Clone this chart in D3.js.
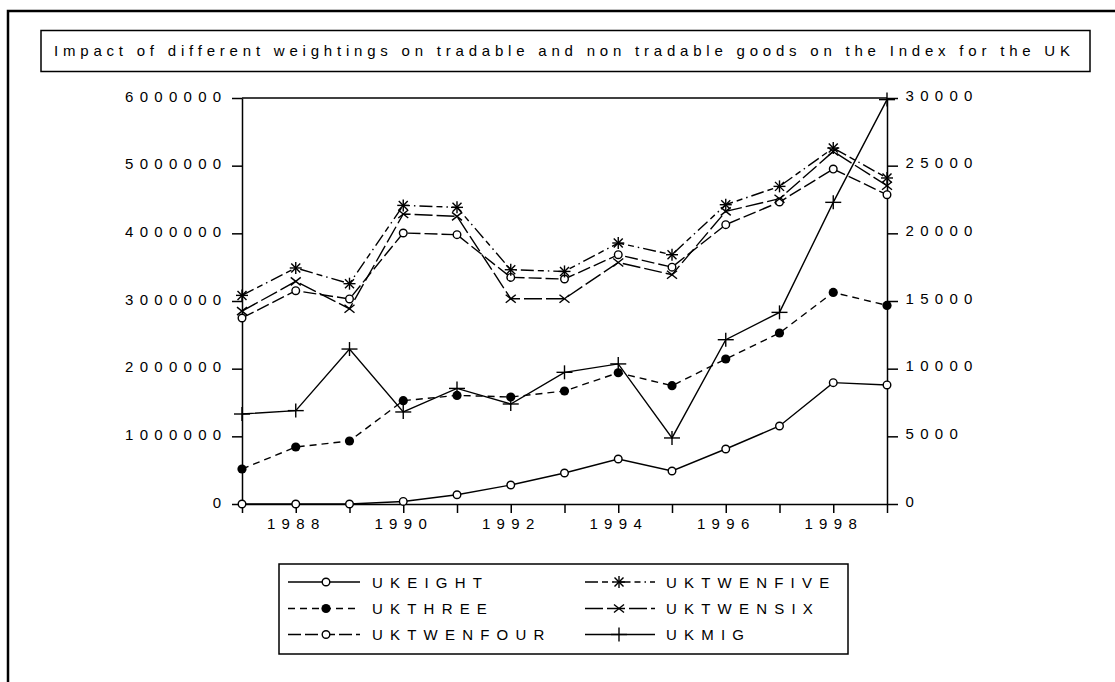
<!DOCTYPE html>
<html><head><meta charset="utf-8">
<script src="https://cdn.jsdelivr.net/npm/d3@7"></script>
<style>
html,body{margin:0;padding:0;background:#fff;}
svg text{font-family:"Liberation Sans",Arial,sans-serif;fill:#000;}
</style></head>
<body>
<svg id="chart" width="1115" height="682"></svg>
<script>
const years = [1987,1988,1989,1990,1991,1992,1993,1994,1995,1996,1997,1998,1999];
const yearLabels = [1988,1990,1992,1994,1996,1998];
const leftTicks = [0,1000000,2000000,3000000,4000000,5000000,6000000];
const rightTicks = [0,5000,10000,15000,20000,25000,30000];
const title = "Impact of different weightings on tradable and non tradable goods on the Index for the UK";

const ukeight     = [0,0,0,38000,137000,281000,458000,665000,488000,813000,1153000,1793000,1759000];
const ukthree     = [517000,842000,931000,1527000,1605000,1581000,1670000,1940000,1748000,2143000,2527000,3127000,2935000];
const uktwenfour  = [2749000,3152000,3030000,4005000,3980000,3349000,3325000,3684000,3500000,4128000,4463000,4950000,4571000];
const uktwenfive  = [3083000,3488000,3256000,4413000,4384000,3462000,3437000,3857000,3684000,4423000,4694000,5261000,4818000];
const uktwensix   = [2850000,3290000,2886000,4286000,4250000,3034000,3034000,3570000,3389000,4324000,4512000,5210000,4704000];
const ukmig       = [6650,6900,11450,6800,8540,7390,9730,10350,4880,12140,14160,22290,29880];

const seriesNames = ["UKEIGHT","UKTHREE","UKTWENFOUR","UKTWENFIVE","UKTWENSIX","UKMIG"];

const svg = d3.select("#chart");
const L = 242, R = 887, T = 98, B = 504;
const x = d3.scaleLinear().domain([1987,1999]).range([L,R]);
const yL = d3.scaleLinear().domain([0,6000000]).range([B,T]);
const yR = d3.scaleLinear().domain([0,30000]).range([B,T]);

// outer frame
svg.append("rect").attr("x",8).attr("y",11).attr("width",1125).attr("height",700)
  .attr("fill","none").attr("stroke","#000").attr("stroke-width",2.5);

// title box
svg.append("rect").attr("x",41).attr("y",30.5).attr("width",1049).attr("height",41)
  .attr("fill","none").attr("stroke","#000").attr("stroke-width",1.5);
svg.append("text").attr("x",54).attr("y",56).attr("font-size",15)
  .attr("textLength",1016).attr("lengthAdjust","spacing").text(title);

// plot top border
svg.append("line").attr("x1",L).attr("x2",R).attr("y1",T).attr("y2",T)
  .attr("stroke","#000").attr("stroke-width",1.5);

function styleAxis(g){
  g.selectAll("path.domain").attr("stroke","#000").attr("stroke-width",1.5);
  g.selectAll(".tick line").attr("stroke","#000").attr("stroke-width",1.5);
  g.selectAll(".tick text").attr("font-size",15).attr("letter-spacing","6.3px")
    .attr("font-family","Liberation Sans, Arial, sans-serif").attr("fill","#000");
}

const gl = svg.append("g").attr("transform",`translate(${L},0)`)
  .call(d3.axisLeft(yL).tickValues(leftTicks).tickSize(10).tickSizeOuter(0).tickPadding(8).tickFormat(d3.format("d")));
styleAxis(gl);
gl.selectAll(".tick text").attr("dy","0.2em").attr("x",-14.5);

const gr = svg.append("g").attr("transform",`translate(${R},0)`)
  .call(d3.axisRight(yR).tickValues(rightTicks).tickSize(11).tickSizeOuter(0).tickPadding(8).tickFormat(d3.format("d")));
styleAxis(gr);
gr.selectAll(".tick text").attr("dy","0.15em").attr("x",18.5);

const gx = svg.append("g").attr("transform",`translate(0,${B})`)
  .call(d3.axisBottom(x).tickValues(years).tickSize(9).tickSizeOuter(0)
    .tickFormat(d => yearLabels.includes(d) ? String(d) : ""));
styleAxis(gx);
gx.selectAll(".tick text").attr("y",14).attr("dy","0.71em").attr("text-anchor","middle");

// markers
function marker(g, type, cx, cy){
  const s = g.append("g").attr("transform",`translate(${cx},${cy})`);
  const st = {stroke:"#000","stroke-width":1.4,fill:"none"};
  function ln(x1,y1,x2,y2){ const l=s.append("line").attr("x1",x1).attr("y1",y1).attr("x2",x2).attr("y2",y2); for(const k in st) l.attr(k,st[k]); }
  if(type==="open"){ s.append("circle").attr("r",3.8).attr("fill","#fff").attr("stroke","#000").attr("stroke-width",1.4); }
  else if(type==="filled"){ s.append("circle").attr("r",4.6).attr("fill","#000"); }
  else if(type==="star"){ ln(-6,0,6,0); ln(0,-6,0,6); ln(-4.5,-4.5,4.5,4.5); ln(-4.5,4.5,4.5,-4.5); }
  else if(type==="x"){ ln(-5,-4,5,4); ln(-5,4,5,-4); }
  else if(type==="plus"){ ln(-8,0,8,0); ln(0,-7,0,7); }
}

const series = [
  {name:"UKEIGHT", values:ukeight, axis:yL, dash:null, mk:"open"},
  {name:"UKTHREE", values:ukthree, axis:yL, dash:"7,5", mk:"filled"},
  {name:"UKTWENFOUR", values:uktwenfour, axis:yL, dash:"13,4", mk:"open"},
  {name:"UKTWENFIVE", values:uktwenfive, axis:yL, dash:"13,4,6,4,1.5,4", mk:"star"},
  {name:"UKTWENSIX", values:uktwensix, axis:yL, dash:"18,4", mk:"x"},
  {name:"UKMIG", values:ukmig, axis:yR, dash:null, mk:"plus"}
];

const plot = svg.append("g");
series.forEach(s => {
  const line = d3.line().x((d,i)=>x(years[i])).y(d=>s.axis(d));
  plot.append("path").datum(s.values).attr("d",line).attr("fill","none")
    .attr("stroke","#000").attr("stroke-width",1.4)
    .attr("stroke-dasharray", s.dash);
});
series.forEach(s => {
  s.values.forEach((v,i)=> marker(plot, s.mk, x(years[i]), s.axis(v)));
});

// legend
svg.append("rect").attr("x",279).attr("y",564).attr("width",569).attr("height",90)
  .attr("fill","none").attr("stroke","#000").attr("stroke-width",1.5);
const legendOrder = [
  {s:series[0], col:0,row:0},{s:series[1],col:0,row:1},{s:series[2],col:0,row:2},
  {s:series[3], col:1,row:0},{s:series[4],col:1,row:1},{s:series[5],col:1,row:2}
];
const colX = [[288,360,326,372],[585,655,619,666]];
const rowY = [582,608.5,634.5];
legendOrder.forEach(o => {
  const [x1,x2,mx,tx] = colX[o.col];
  const yy = rowY[o.row];
  svg.append("line").attr("x1",x1).attr("x2",x2).attr("y1",yy).attr("y2",yy)
    .attr("stroke","#000").attr("stroke-width",1.4).attr("stroke-dasharray",o.s.dash);
  marker(svg, o.s.mk, mx, yy);
  svg.append("text").attr("x",tx).attr("y",yy+5.5).attr("font-size",15)
    .attr("letter-spacing","7.2px").text(o.s.name);
});
</script>
</body></html>
